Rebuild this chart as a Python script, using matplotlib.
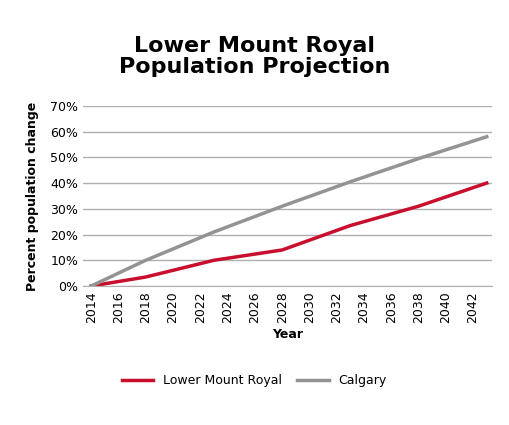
import matplotlib.pyplot as plt
from matplotlib.ticker import PercentFormatter

years = [2014, 2018, 2023, 2028, 2033, 2038, 2043]
lower_mount_royal = [0, 3.5, 10, 14, 23.5, 31, 40]
calgary = [0, 10, 21, 31, 40.5, 49.5, 58]
tick_years = list(range(2014, 2043, 2))

fig = plt.figure(figsize=(5.09, 4.25), dpi=100)
ax = fig.add_axes([0.163, 0.327, 0.804, 0.424])

ax.plot(years, lower_mount_royal, color="#c8102e", lw=2.5, label="Lower Mount Royal")
ax.plot(years, calgary, color="#939393", lw=2.5, label="Calgary")

ax.set_xlim(2013.4, 2043.4)
ax.set_ylim(0, 70)
ax.set_yticks(range(0, 71, 10))
ax.yaxis.set_major_formatter(PercentFormatter(decimals=0))
ax.set_xticks(tick_years)
ax.set_xticklabels([str(y) for y in tick_years], rotation=90)
ax.tick_params(length=0, labelsize=9)
ax.grid(axis="y", color="#b0b0b0", lw=1)
ax.set_axisbelow(True)
for s in ["top", "right", "left"]:
    ax.spines[s].set_visible(False)
ax.spines["bottom"].set_color("#b0b0b0")

ax.set_xlabel("Year", fontsize=9, fontweight="bold")
ax.set_ylabel("Percent population change", fontsize=9, fontweight="bold", labelpad=8)
fig.suptitle("Lower Mount Royal\nPopulation Projection", fontsize=16,
             fontweight="bold", y=0.915, linespacing=1.05)
fig.legend(loc="center", bbox_to_anchor=(0.5, 0.105), ncol=2, frameon=False,
           fontsize=9, handlelength=2.5, columnspacing=1.2)

fig.savefig("out.png", dpi=100)
